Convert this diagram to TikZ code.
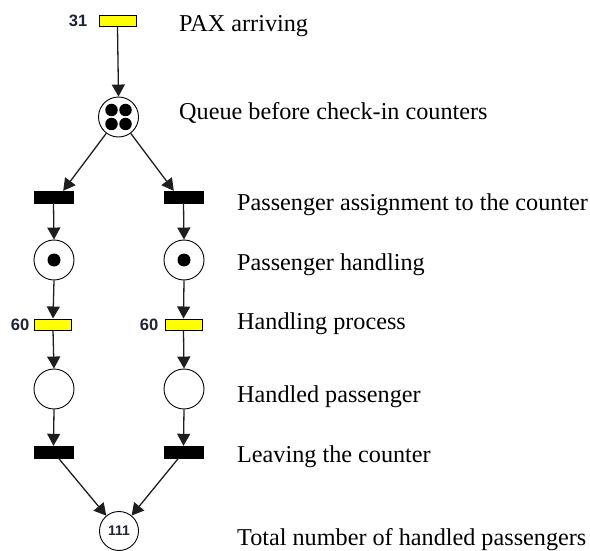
\documentclass[tikz,border=0pt]{standalone}
\usepackage{fontspec}
\setmainfont{Liberation Serif}
\newfontfamily\numfont{Liberation Sans}
\usetikzlibrary{arrows.meta}
\definecolor{tokyellow}{RGB}{255,255,0}
\definecolor{numcol}{RGB}{30,35,55}
\definecolor{arccol}{RGB}{30,30,30}
\begin{document}
\begin{tikzpicture}[x=1pt,y=-1pt,
  timedtr/.style={draw=black,line width=1pt,fill=tokyellow,minimum width=37pt,minimum height=11pt,inner sep=0pt},
  immtr/.style={draw=black,fill=black,minimum width=39pt,minimum height=12pt,inner sep=0pt},
  place/.style={circle,draw=black,line width=0.9pt,minimum size=40pt,inner sep=0pt},
  tok/.style={circle,fill=black,minimum size=12.5pt,inner sep=0pt},
  arc/.style={draw=arccol,line width=1.3pt,-{Triangle[width=13pt,length=12pt]}},
  numlbl/.style={font=\numfont\fontsize{16.5}{16.5}\bfseries\selectfont,text=numcol,inner sep=0pt,anchor=east},
  desc/.style={font=\fontsize{24.2}{26}\selectfont,anchor=base west,inner sep=0pt}
]
\useasboundingbox (0,0) rectangle (590,551);

% nodes
\node[timedtr] (t0) at (117.5,21) {};
\node[place] (q) at (118.5,117) {};
\node[tok] at (111.5,110) {};
\node[tok] at (125.5,110) {};
\node[tok] at (111.5,124) {};
\node[tok] at (125.5,124) {};

\node[immtr] (tL1) at (53.5,197) {};
\node[immtr] (tR1) at (183.5,197) {};

\node[place] (pL1) at (54,260) {};
\node[place] (pR1) at (184,260) {};
\node[tok,minimum size=13pt] at (54,260) {};
\node[tok,minimum size=13pt] at (184,260) {};

\node[timedtr] (yL) at (53,324.5) {};
\node[timedtr] (yR) at (183.5,324.5) {};

\node[place] (pL2) at (54,389) {};
\node[place] (pR2) at (184,389) {};

\node[immtr] (tL2) at (53.5,452) {};
\node[immtr] (tR2) at (183.5,452) {};

\node[place,minimum size=39pt] (f) at (119,531) {};
\node[font=\numfont\fontsize{14}{14}\bfseries\selectfont,text=numcol,inner sep=0pt] at (f) {111};

% numbers
\node[numlbl] at (87.5,21) {31};
\node[numlbl] at (29.5,324.5) {60};
\node[numlbl] at (158.5,324.5) {60};

% arcs
\draw[arc] (t0.south) -- (q.north);
\draw[arc] (q) -- ([xshift=-10pt]tL1.north east);
\draw[arc] (q) -- ([xshift=10pt]tR1.north west);
\draw[arc] (tL1.south) -- (pL1.north);
\draw[arc] (tR1.south) -- (pR1.north);
\draw[arc] (pL1.south) -- (yL.north);
\draw[arc] (pR1.south) -- (yR.north);
\draw[arc] (yL.south) -- (pL2.north);
\draw[arc] (yR.south) -- (pR2.north);
\draw[arc] (pL2.south) -- (tL2.north);
\draw[arc] (pR2.south) -- (tR2.north);
\draw[arc] ([xshift=5pt]tL2.south) -- (f);
\draw[arc] ([xshift=-5pt]tR2.south) -- (f);

% descriptions
\node[desc] at (179,32) {PAX arriving};
\node[desc] at (179,120) {Queue before check-in counters};
\node[desc] at (237,210) {Passenger assignment to the counter};
\node[desc] at (237,270) {Passenger handling};
\node[desc] at (237,329) {Handling process};
\node[desc] at (237,402) {Handled passenger};
\node[desc] at (237,462) {Leaving the counter};
\node[desc] at (237,545) {Total number of handled passengers};
\end{tikzpicture}
\end{document}
